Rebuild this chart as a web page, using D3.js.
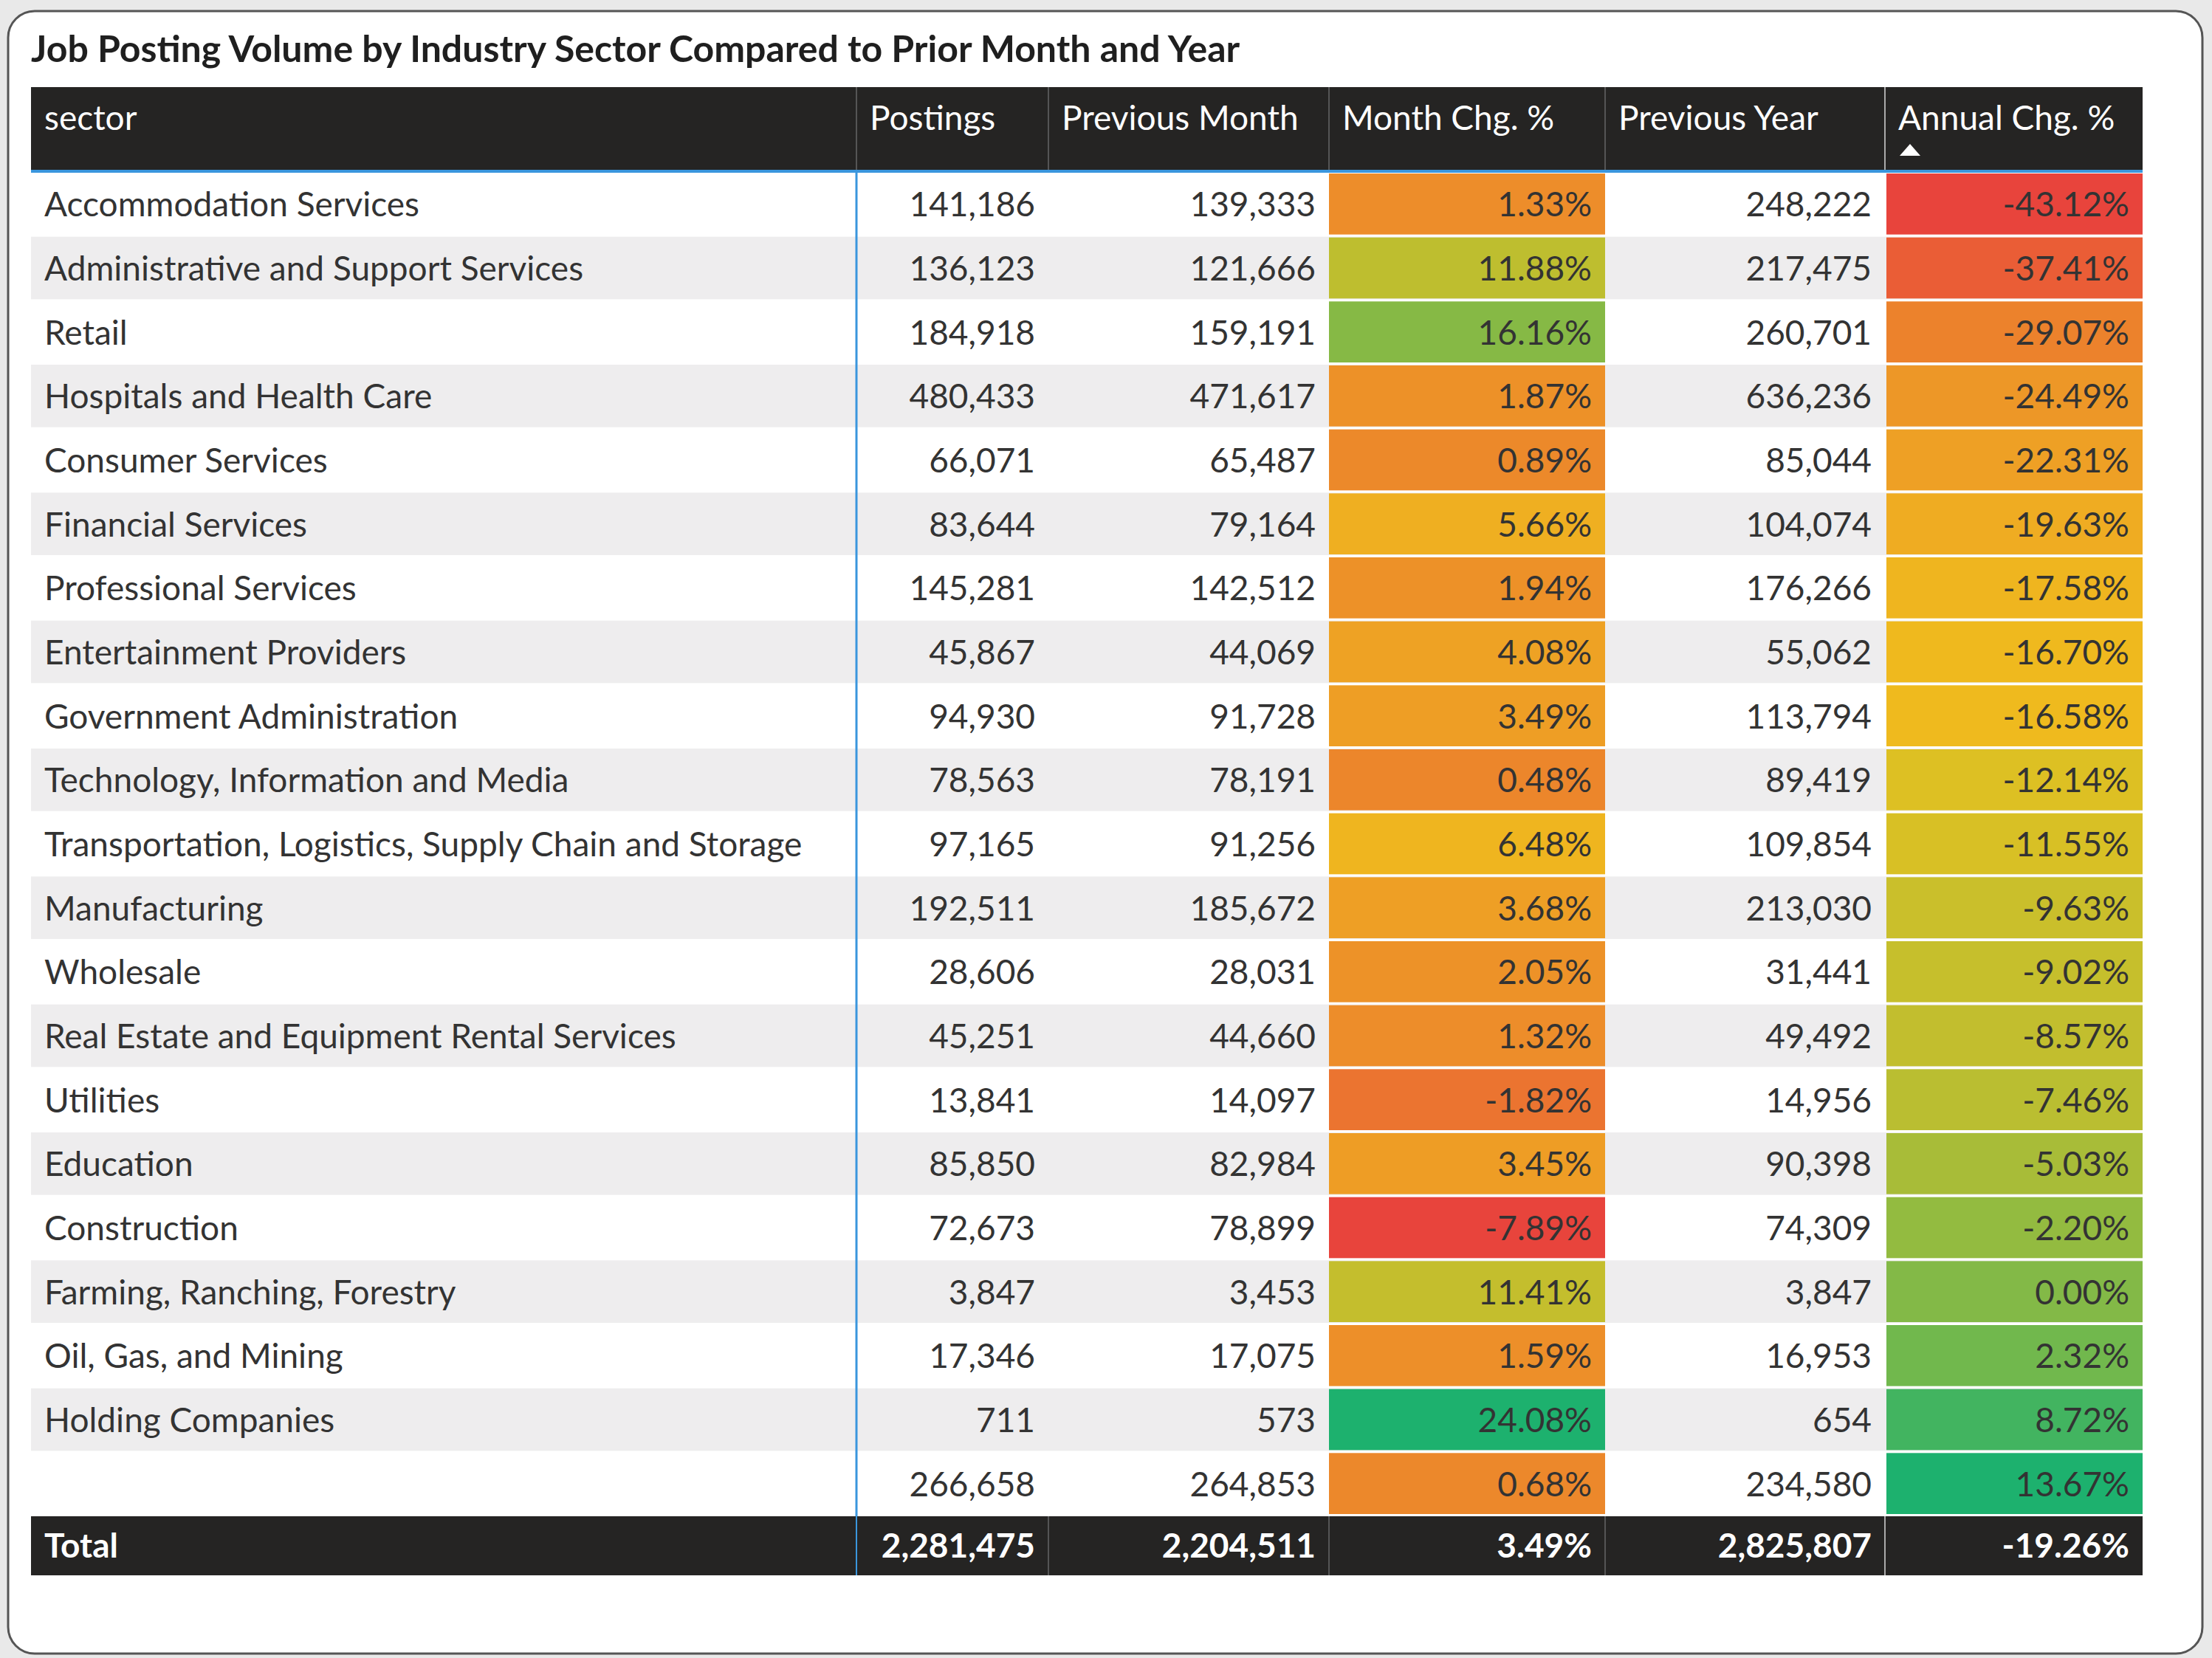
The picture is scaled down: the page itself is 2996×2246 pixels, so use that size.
<!DOCTYPE html>
<html>
<head>
<meta charset="utf-8">
<script src="https://cdn.jsdelivr.net/npm/d3@7"></script>
<style>
  body { margin: 0; background: #e9e9e9; }
  text { font-family: "Segoe UI", Lato, "Open Sans", sans-serif; }
</style>
</head>
<body>
<script>
var sectors = ["Accommodation Services", "Administrative and Support Services", "Retail",
  "Hospitals and Health Care", "Consumer Services", "Financial Services", "Professional Services",
  "Entertainment Providers", "Government Administration", "Technology, Information and Media",
  "Transportation, Logistics, Supply Chain and Storage", "Manufacturing", "Wholesale",
  "Real Estate and Equipment Rental Services", "Utilities", "Education", "Construction",
  "Farming, Ranching, Forestry", "Oil, Gas, and Mining", "Holding Companies", ""];
var postings = [141186, 136123, 184918, 480433, 66071, 83644, 145281, 45867, 94930, 78563,
  97165, 192511, 28606, 45251, 13841, 85850, 72673, 3847, 17346, 711, 266658];
var prevMonth = [139333, 121666, 159191, 471617, 65487, 79164, 142512, 44069, 91728, 78191,
  91256, 185672, 28031, 44660, 14097, 82984, 78899, 3453, 17075, 573, 264853];
var monthChg = [1.33, 11.88, 16.16, 1.87, 0.89, 5.66, 1.94, 4.08, 3.49, 0.48,
  6.48, 3.68, 2.05, 1.32, -1.82, 3.45, -7.89, 11.41, 1.59, 24.08, 0.68];
var prevYear = [248222, 217475, 260701, 636236, 85044, 104074, 176266, 55062, 113794, 89419,
  109854, 213030, 31441, 49492, 14956, 90398, 74309, 3847, 16953, 654, 234580];
var annualChg = [-43.12, -37.41, -29.07, -24.49, -22.31, -19.63, -17.58, -16.70, -16.58, -12.14,
  -11.55, -9.63, -9.02, -8.57, -7.46, -5.03, -2.20, 0.00, 2.32, 8.72, 13.67];
var headers = ["sector", "Postings", "Previous Month", "Month Chg. %", "Previous Year", "Annual Chg. %"];
var totals = ["Total", "2,281,475", "2,204,511", "3.49%", "2,825,807", "-19.26%"];

var W = 2996, H = 2246;
var colEdges = [42, 1160, 1420, 1800, 2174, 2553, 2902];
var fmtInt = d3.format(",");
var fmtPct = function (v) { return v.toFixed(2) + "%"; };

function colorScale(vals) {
  var lo = d3.min(vals), hi = d3.max(vals);
  return d3.scaleLinear()
    .domain([lo, (lo + hi) / 2, hi])
    .range(["#e8443c", "#f0c21c", "#1db16e"]);
}
var monthColor = colorScale(monthChg);
var annualColor = colorScale(annualChg);

var svg = d3.select("body").append("svg")
  .attr("width", W).attr("height", H);

svg.append("rect")
  .attr("x", 11).attr("y", 15).attr("width", 2972).attr("height", 2225)
  .attr("rx", 36)
  .attr("fill", "#fff").attr("stroke", "#555").attr("stroke-width", 3);

svg.append("text")
  .attr("x", 42).attr("y", 84)
  .attr("font-size", 50).attr("font-weight", "bold").attr("fill", "#1f1f1f")
  .text("Job Posting Volume by Industry Sector Compared to Prior Month and Year");

// header
var headTop = 118, headBottom = 230;
svg.append("rect")
  .attr("x", colEdges[0]).attr("y", headTop)
  .attr("width", colEdges[6] - colEdges[0]).attr("height", headBottom - headTop)
  .attr("fill", "#252423");
svg.append("line")
  .attr("x1", colEdges[0]).attr("x2", colEdges[6])
  .attr("y1", headBottom + 2).attr("y2", headBottom + 2)
  .attr("stroke", "#3a96dd").attr("stroke-width", 4);

headers.forEach(function (h, i) {
  svg.append("text")
    .attr("x", colEdges[i] + 18).attr("y", 176)
    .attr("font-size", 46).attr("fill", "#fff")
    .text(h);
  if (i > 0) {
    svg.append("line")
      .attr("x1", colEdges[i]).attr("x2", colEdges[i])
      .attr("y1", headTop).attr("y2", headBottom)
      .attr("stroke", i === 5 ? "#aaa" : "#555").attr("stroke-width", 2);
  }
});
// sort indicator
svg.append("path")
  .attr("d", "M2573,211 l14,-16 l14,16 z")
  .attr("fill", "#fff");

// body rows
var y = d3.scaleBand()
  .domain(d3.range(sectors.length))
  .range([234, 2054]);

var rows = svg.selectAll(".row")
  .data(sectors)
  .enter().append("g")
  .attr("class", "row")
  .attr("transform", function (d, i) { return "translate(0," + y(i) + ")"; });

rows.append("rect")
  .attr("x", colEdges[0]).attr("width", colEdges[6] - colEdges[0])
  .attr("height", y.bandwidth() - 2)
  .attr("fill", function (d, i) { return i % 2 ? "#eeedee" : "#fff"; });

rows.append("rect")
  .attr("x", colEdges[3]).attr("width", colEdges[4] - colEdges[3])
  .attr("y", 1).attr("height", y.bandwidth() - 4)
  .attr("fill", function (d, i) { return monthColor(monthChg[i]); });

rows.append("rect")
  .attr("x", colEdges[5] + 2).attr("width", colEdges[6] - colEdges[5] - 2)
  .attr("y", 1).attr("height", y.bandwidth() - 4)
  .attr("fill", function (d, i) { return annualColor(annualChg[i]); });

var ty = y.bandwidth() / 2 + 16;
function cell(col, fn, anchorLeft) {
  rows.append("text")
    .attr("x", anchorLeft ? colEdges[col] + 18 : colEdges[col + 1] - 18)
    .attr("y", ty)
    .attr("text-anchor", anchorLeft ? "start" : "end")
    .attr("font-size", 46).attr("fill", "#333")
    .text(fn);
}
cell(0, function (d) { return d; }, true);
cell(1, function (d, i) { return fmtInt(postings[i]); });
cell(2, function (d, i) { return fmtInt(prevMonth[i]); });
cell(3, function (d, i) { return fmtPct(monthChg[i]); });
cell(4, function (d, i) { return fmtInt(prevYear[i]); });
cell(5, function (d, i) { return fmtPct(annualChg[i]); });

svg.append("line")
  .attr("x1", colEdges[1]).attr("x2", colEdges[1])
  .attr("y1", 234).attr("y2", 2054)
  .attr("stroke", "#3a96dd").attr("stroke-width", 3);

// total row
var totTop = 2054, totH = 80;
svg.append("rect")
  .attr("x", colEdges[0]).attr("y", totTop)
  .attr("width", colEdges[6] - colEdges[0]).attr("height", totH)
  .attr("fill", "#252423");
totals.forEach(function (t, i) {
  svg.append("text")
    .attr("x", i === 0 ? colEdges[0] + 18 : colEdges[i + 1] - 18)
    .attr("y", totTop + totH / 2 + 16)
    .attr("text-anchor", i === 0 ? "start" : "end")
    .attr("font-size", 46).attr("font-weight", "bold").attr("fill", "#fff")
    .text(t);
  if (i > 0) {
    svg.append("line")
      .attr("x1", colEdges[i]).attr("x2", colEdges[i])
      .attr("y1", totTop).attr("y2", totTop + totH)
      .attr("stroke", i === 1 ? "#3a96dd" : (i === 5 ? "#aaa" : "#555")).attr("stroke-width", 2);
  }
});
</script>
</body>
</html>
